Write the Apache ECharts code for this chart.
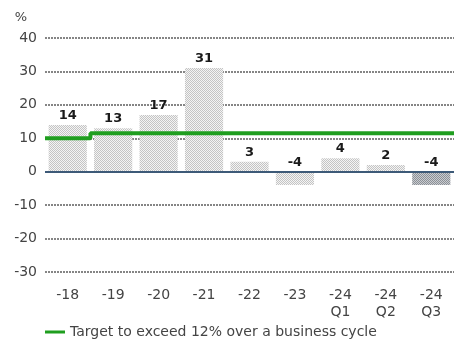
<!DOCTYPE html>
<html>
<head>
<meta charset="utf-8">
<script src="https://cdn.jsdelivr.net/npm/echarts@6/dist/echarts.min.js"></script>
<style>
  html, body { margin: 0; padding: 0; background: #fff; }
  #chart { width: 454px; height: 344px; }
</style>
</head>
<body>
<div id="chart"></div>
<script>
// Periods on the x axis
var categories = ['-18', '-19', '-20', '-21', '-22', '-23', '-24\nQ1', '-24\nQ2', '-24\nQ3'];
// Return on equity, %
var returnValues = [14, 13, 17, 31, 3, -4, 4, 2, -4];
// Target level per period, %
var targetValues = [10, 11.5, 11.5, 11.5, 11.5, 11.5, 11.5, 11.5, 11.5];
// Y axis range and step
var yMin = -30, yMax = 40, yStep = 10;
var legendText = 'Target to exceed 12% over a business cycle';

// Small dotted fill used for the bars
function dotPattern(dot, bg) {
  var c = document.createElement('canvas');
  c.width = 2; c.height = 2;
  var ctx = c.getContext('2d');
  ctx.fillStyle = bg; ctx.fillRect(0, 0, 2, 2);
  ctx.fillStyle = dot;
  ctx.fillRect(0, 0, 1, 1);
  ctx.fillRect(1, 1, 1, 1);
  return { image: c, repeat: 'repeat' };
}
var lightFill = dotPattern('#c4c4c4', '#f4f4f4');
var darkFill = dotPattern('#8c9096', '#c9ccd0');

var barData = returnValues.map(function (v, i) {
  return { value: v, itemStyle: { color: i === returnValues.length - 1 ? darkFill : lightFill } };
});

// Stepped target line spanning each whole category band
var targetPoints = [];
targetValues.forEach(function (t, i) {
  targetPoints.push([i, t]);
  targetPoints.push([i + 1, t]);
});

var chart = echarts.init(document.getElementById('chart'));
var font = 'DejaVu Sans';
chart.setOption({
  animation: false,
  grid: { left: 45, right: 0, top: 38, height: 234 },
  xAxis: [{
    type: 'category',
    data: categories,
    axisLine: { show: false },
    axisTick: { show: false },
    axisLabel: { color: '#444', fontFamily: font, fontSize: 14, lineHeight: 17, margin: 15 }
  }, {
    type: 'value',
    min: 0,
    max: categories.length,
    show: false
  }],
  yAxis: {
    type: 'value',
    min: yMin,
    max: yMax,
    interval: yStep,
    name: '%',
    nameLocation: 'end',
    nameGap: 14,
    nameTextStyle: { color: '#444', fontFamily: font, fontSize: 13, align: 'right', padding: [0, 18, 0, 0] },
    axisLine: { show: false },
    axisTick: { show: false },
    axisLabel: { color: '#444', fontFamily: font, fontSize: 14, margin: 8 },
    splitLine: { lineStyle: { color: '#5e5e5e', width: 1.5, type: [2, 1] } }
  },
  legend: {
    left: 40,
    bottom: 0,
    itemWidth: 20,
    itemHeight: 3,
    itemGap: 4,
    textStyle: { color: '#444', fontFamily: font, fontSize: 14 },
    data: [{ name: legendText, icon: 'rect' }]
  },
  series: [{
    type: 'bar',
    data: barData,
    barCategoryGap: '16%',
    label: {
      show: true,
      position: 'top',
      distance: 3,
      color: '#1a1a1a',
      fontFamily: font,
      fontWeight: 'bold',
      fontSize: 13
    },
    markLine: {
      symbol: 'none',
      silent: true,
      label: { show: false },
      lineStyle: { color: '#3d5a78', width: 2, type: 'solid' },
      data: [{ yAxis: 0 }]
    },
    z: 2
  }, {
    name: legendText,
    type: 'line',
    xAxisIndex: 1,
    data: targetPoints,
    symbol: 'none',
    color: '#1f9e1f',
    lineStyle: { color: '#1f9e1f', width: 4 },
    z: 5
  }]
});
</script>
</body>
</html>
